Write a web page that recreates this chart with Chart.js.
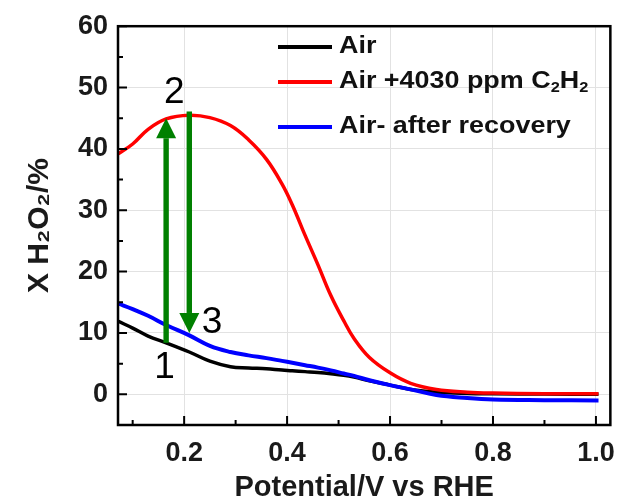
<!DOCTYPE html>
<html>
<head>
<meta charset="utf-8">
<script src="https://cdn.jsdelivr.net/npm/chart.js@4.4.1/dist/chart.umd.min.js"></script>
<style>
  body { margin: 0; background: #fff; }
  #wrap { width: 627px; height: 502px; }
</style>
</head>
<body>
<div id="wrap"><canvas id="h2o2Chart"></canvas></div>
<script>
const potential = [0.072, 0.10, 0.13, 0.165, 0.21, 0.25, 0.29, 0.325, 0.36, 0.39, 0.41, 0.435, 0.46, 0.485, 0.51, 0.53, 0.56, 0.60, 0.64, 0.69, 0.75, 0.80, 0.90, 1.005];
const airY      = [11.9, 10.8, 9.5, 8.4, 6.9, 5.4, 4.5, 4.3, 4.15, 3.95, 3.85, 3.7, 3.55, 3.35, 3.1, 2.8, 2.2, 1.5, 0.8, 0.35, 0.15, 0.1, 0.05, 0.0];
const c2h2Y     = [39.2, 40.8, 43.2, 44.9, 45.5, 45.1, 43.8, 41.5, 38.3, 34.3, 30.9, 25.9, 21.1, 16.1, 12.0, 9.1, 6.0, 3.5, 1.8, 0.8, 0.35, 0.2, 0.1, 0.1];
const recoveryY = [14.8, 13.9, 12.8, 11.3, 9.6, 7.9, 6.9, 6.35, 5.9, 5.45, 5.15, 4.75, 4.35, 3.9, 3.4, 3.0, 2.3, 1.5, 0.8, -0.1, -0.6, -0.85, -0.95, -1.0];

const seriesLabels = ['Air', 'Air +4030 ppm C₂H₂', 'Air- after recovery'];
const seriesColors = ['#000000', '#ff0000', '#0000ff'];

const xTicks = [0.2, 0.4, 0.6, 0.8, 1.0];
const xMinor = [0.1, 0.3, 0.5, 0.7, 0.9];
const yTicks = [0, 10, 20, 30, 40, 50, 60];
const yMinor = [5, 15, 25, 35, 45, 55];

// green arrows (1 -> 2 -> 3) and their numbers, in data units
const arrows = [
  { x: 0.165, from: 8.4, to: 45.0 },
  { x: 0.21, from: 46.1, to: 10.0 }
];
const marks = [
  { text: '1', x: 0.162, y: 4.3 },
  { text: '2', x: 0.181, y: 49.1 },
  { text: '3', x: 0.254, y: 11.6 }
];

const FONT = "'Liberation Sans', Arial, sans-serif";

function pts(ys) {
  return potential.map((x, i) => ({ x: x, y: ys[i] }));
}

// draws text where '₂' is rendered as a lowered small 2
function drawSubText(ctx, str, x, y, size, stretch) {
  ctx.save();
  ctx.translate(x, y);
  ctx.scale(stretch, 1);
  let cx = 0;
  for (const ch of str) {
    if (ch === '₂') {
      ctx.font = 'bold ' + Math.round(size * 0.62) + 'px ' + FONT;
      ctx.fillText('2', cx, size * 0.28);
      cx += ctx.measureText('2').width;
    } else {
      ctx.font = 'bold ' + size + 'px ' + FONT;
      ctx.fillText(ch, cx, 0);
      cx += ctx.measureText(ch).width;
    }
  }
  ctx.restore();
}

const decorations = {
  id: 'decorations',
  afterDatasetsDraw(chart) {
    const ctx = chart.ctx;
    const xs = chart.scales.x;
    const ys = chart.scales.y;
    ctx.save();
    ctx.fillStyle = '#008000';
    arrows.forEach(a => {
      const px = xs.getPixelForValue(a.x);
      const y0 = ys.getPixelForValue(a.from);
      const y1 = ys.getPixelForValue(a.to);
      const dir = y1 < y0 ? -1 : 1;
      const headLen = 20, headW = 10, shaft = 2.7;
      const base = y1 - dir * headLen;
      ctx.fillRect(px - shaft, Math.min(y0, base), shaft * 2, Math.abs(base - y0));
      ctx.beginPath();
      ctx.moveTo(px - headW, base);
      ctx.lineTo(px + headW, base);
      ctx.lineTo(px, y1);
      ctx.closePath();
      ctx.fill();
    });
    ctx.fillStyle = '#000';
    ctx.font = '37px ' + FONT;
    ctx.textAlign = 'center';
    ctx.textBaseline = 'middle';
    marks.forEach(m => {
      ctx.fillText(m.text, xs.getPixelForValue(m.x), ys.getPixelForValue(m.y));
    });
    ctx.restore();
  },
  afterDraw(chart) {
    const ctx = chart.ctx;
    const a = chart.chartArea;
    const xs = chart.scales.x;
    const ys = chart.scales.y;
    ctx.save();
    ctx.strokeStyle = '#000';
    ctx.lineWidth = 2;
    ctx.beginPath();
    xTicks.forEach(v => { const p = xs.getPixelForValue(v); ctx.moveTo(p, a.bottom); ctx.lineTo(p, a.bottom - 9); });
    xMinor.forEach(v => { const p = xs.getPixelForValue(v); ctx.moveTo(p, a.bottom); ctx.lineTo(p, a.bottom - 5); });
    yTicks.forEach(v => { const p = ys.getPixelForValue(v); ctx.moveTo(a.left, p); ctx.lineTo(a.left + 9, p); });
    yMinor.forEach(v => { const p = ys.getPixelForValue(v); ctx.moveTo(a.left, p); ctx.lineTo(a.left + 5, p); });
    ctx.stroke();
    ctx.lineWidth = 2.5;
    ctx.strokeRect(a.left, a.top, a.right - a.left, a.bottom - a.top);

    // legend
    const rowY = [47, 82, 127];
    ctx.textAlign = 'left';
    ctx.textBaseline = 'middle';
    seriesLabels.forEach((lab, i) => {
      ctx.strokeStyle = seriesColors[i];
      ctx.lineWidth = 4;
      ctx.beginPath();
      ctx.moveTo(278, rowY[i]);
      ctx.lineTo(332, rowY[i]);
      ctx.stroke();
      ctx.fillStyle = '#111';
      drawSubText(ctx, lab, 339, rowY[i], 23, 1.17);
    });
    ctx.restore();
  }
};

const ctx = document.getElementById('h2o2Chart');

const chart = new Chart(ctx, {
  type: 'line',
  data: {
    datasets: [
      { label: seriesLabels[0], data: pts(airY), borderColor: seriesColors[0], order: 2 },
      { label: seriesLabels[1], data: pts(c2h2Y), borderColor: seriesColors[1], order: 0 },
      { label: seriesLabels[2], data: pts(recoveryY), borderColor: seriesColors[2], order: 1, borderWidth: 4 }
    ]
  },
  options: {
    responsive: true,
    maintainAspectRatio: false,
    animation: false,
    layout: { padding: { top: 20, right: 10, left: 0, bottom: 0 } },
    elements: {
      point: { radius: 0 },
      line: { borderWidth: 3.5, tension: 0.4, fill: false }
    },
    plugins: {
      legend: { display: false },
      tooltip: { enabled: false }
    },
    scales: {
      x: {
        type: 'linear',
        min: 0.0715,
        max: 1.028,
        afterBuildTicks: s => { s.ticks = xTicks.map(v => ({ value: v })); },
        afterFit: s => { s.height = 77; },
        grid: { color: '#e2e2e2', lineWidth: 1, drawTicks: false },
        border: { display: false },
        ticks: {
          padding: 12,
          color: '#1a1a1a',
          font: { family: FONT, size: 27, weight: 'bold' },
          callback: v => v.toFixed(1)
        },
        title: {
          display: true,
          text: 'Potential/V vs RHE',
          color: '#1a1a1a',
          font: { family: FONT, size: 29, weight: 'bold' },
          padding: { top: 0, bottom: -3 }
        }
      },
      y: {
        min: -5,
        max: 60,
        afterBuildTicks: s => { s.ticks = yTicks.map(v => ({ value: v })); },
        afterFit: s => { s.width = 118; },
        grid: { color: '#e2e2e2', lineWidth: 1, drawTicks: false },
        border: { display: false },
        ticks: {
          padding: 10,
          color: '#1a1a1a',
          font: { family: FONT, size: 27, weight: 'bold' }
        },
        title: {
          display: true,
          text: 'X H₂O₂/%',
          color: '#1a1a1a',
          font: { family: FONT, size: 30, weight: 'bold' },
          padding: { top: 22, bottom: 0 }
        }
      }
    }
  },
  plugins: [decorations]
});
</script>
</body>
</html>
